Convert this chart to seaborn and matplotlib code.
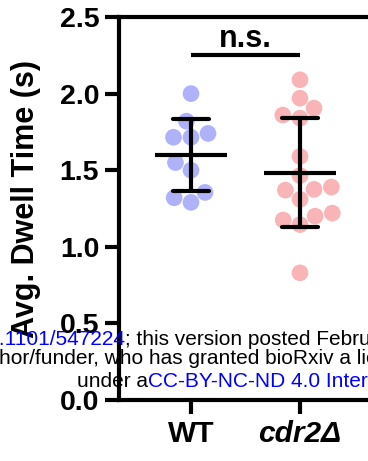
import numpy as np
import pandas as pd
import matplotlib
matplotlib.use("Agg")
import matplotlib.pyplot as plt
import matplotlib.transforms as mtransforms
import seaborn as sns

# ---- data ----
groups = ["WT", "cdr2Δ"]
wt_values = [2.00, 1.82, 1.74, 1.715, 1.715, 1.55, 1.50, 1.355, 1.32, 1.29]
cdr2_values = [2.09, 1.97, 1.905, 1.86, 1.84, 1.59, 1.465, 1.39, 1.375, 1.37,
               1.31, 1.22, 1.20, 1.175, 1.145, 0.83]
y_ticks = [0.0, 0.5, 1.0, 1.5, 2.0, 2.5]
y_tick_labels = ["0.0", "0.5", "1.0", "1.5", "2.0", "2.5"]
sig_label = "n.s."
y_label = "Avg. Dwell Time (s)"

df = pd.DataFrame({
    "group": [groups[0]] * len(wt_values) + [groups[1]] * len(cdr2_values),
    "value": wt_values + cdr2_values,
})

sns.set_style("ticks")
plt.rcParams["font.family"] = ["Liberation Sans", "DejaVu Sans"]
plt.rcParams["text.color"] = "black"
plt.rcParams["axes.labelcolor"] = "black"
plt.rcParams["axes.edgecolor"] = "black"

W, H, DPI = 368, 461, 100
fig = plt.figure(figsize=(W / DPI, H / DPI), dpi=DPI)
left_px, right_px, top_px, bottom_px = 119, 410, 17, 400
ax = fig.add_axes([left_px / W, (H - bottom_px) / H,
                   (right_px - left_px) / W, (bottom_px - top_px) / H])

palette = {groups[0]: "#6165f5", groups[1]: "#f56b70"}
sns.swarmplot(data=df, x="group", y="value", hue="group", order=groups,
              palette=palette, size=12, alpha=0.5, linewidth=0,
              legend=False, ax=ax, zorder=1)
sns.pointplot(data=df, x="group", y="value", order=groups, errorbar="sd",
              capsize=0.33, color="black", linestyle="none", marker="_",
              markersize=52, markeredgewidth=3.0,
              err_kws={"linewidth": 3.0}, ax=ax, zorder=3)

ax.set_xlim((left_px - 191) / 109, (right_px - 191) / 109)
ax.set_ylim(0, 2.5)
ax.set_yticks(y_ticks, labels=y_tick_labels)
ax.set_xticks(range(len(groups)), labels=groups)

for side in ["left", "bottom", "top", "right"]:
    ax.spines[side].set_linewidth(3.0)
    ax.spines[side].set_color("black")
    ax.spines[side].set_visible(True)

ax.tick_params(axis="both", which="major", direction="out", length=10,
               width=3.0, colors="black", left=True, bottom=True)
ax.tick_params(axis="y", pad=4.3, labelsize=20.5)
ax.tick_params(axis="x", pad=4.5, labelsize=21.5)
for lab in ax.get_yticklabels() + ax.get_xticklabels():
    lab.set_fontweight("bold")
ax.get_xticklabels()[1].set_fontstyle("italic")

ax.set_xlabel("")
ax.set_ylabel(y_label, fontsize=22, fontweight="bold", color="black")
ax.yaxis.set_label_coords((41.5 - left_px) / (right_px - left_px),
                          (bottom_px - 199) / (bottom_px - top_px))

# significance bracket
ax.plot([0, 1], [2.25, 2.25], color="black", lw=3.0, solid_capstyle="butt",
        clip_on=False, zorder=4)
ax.text(0.5, 2.307, sig_label, ha="center", va="baseline", fontsize=22,
        fontweight="bold", color="black")

# bioRxiv watermark overlay
ident = mtransforms.IdentityTransform()
wm = dict(fontsize=15, fontfamily=["Liberation Sans", "DejaVu Sans"])
t1 = fig.text(125, H - 345, "doi: https://doi.org/10.1101/547224", color="#0000ff",
              ha="right", va="baseline", transform=ident, **wm)
ax.annotate("; this version posted February 12, 2019. The copyright holder",
            xy=(1, 0), xycoords=t1, ha="left", va="bottom", color="black",
            annotation_clip=False, **wm)
fig.text(-1, H - 364, "hor/funder, who has granted bioRxiv a license to display",
         color="black", ha="left", va="baseline", transform=ident, **wm)
t3 = fig.text(77, H - 387, "under a", color="black", ha="left", va="baseline",
              transform=ident, **wm)
ax.annotate("CC-BY-NC-ND 4.0 International license.", xy=(1, 0), xycoords=t3,
            ha="left", va="bottom", color="#0000ff", annotation_clip=False, **wm)

fig.savefig("out.png", dpi=DPI)
